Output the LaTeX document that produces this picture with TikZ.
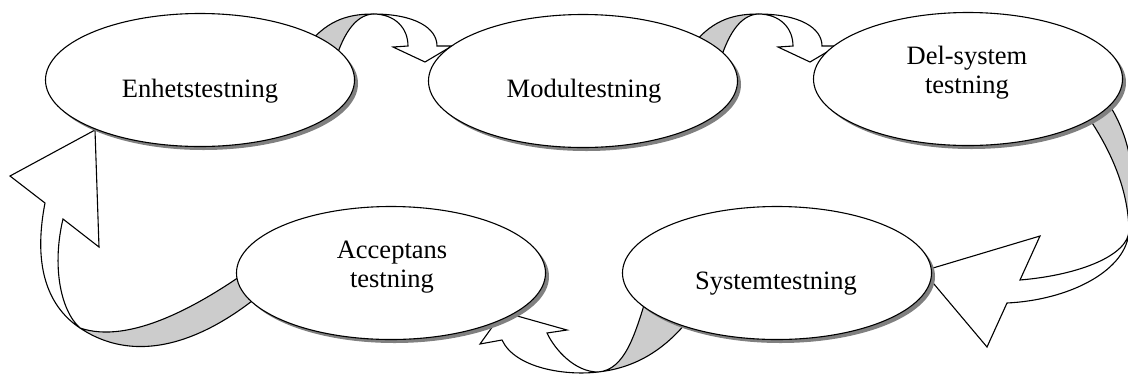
\documentclass[tikz,border=0pt]{standalone}
\usepackage{fontspec}
\setmainfont{Liberation Serif}
\usetikzlibrary{shapes.geometric,shadows}
\begin{document}
\begin{tikzpicture}[x=1pt,y=-1pt,
  stage/.style={ellipse, draw, line width=1.1pt, fill=white, inner sep=0pt,
    minimum width=309pt, minimum height=133pt,
    general shadow={fill=black!50, shadow xshift=3.5pt, shadow yshift=-3.5pt}},
  lbl/.style={font=\fontsize{26.5}{28.5}\selectfont, align=center, inner sep=0pt, anchor=base},
  back/.style={fill=black!20, draw, line width=1.1pt, line join=round},
  front/.style={fill=white, draw, line width=1.1pt, line join=miter},
  toparrow/.pic={
    % shaded back face of the ribbon
    \path[back] (-68,34) .. controls (-48,8) and (-28,0) .. (0,0)
      .. controls (-18,1) and (-31,21) .. (-40,54) -- cycle;
    % front face with the arrow head
    \path[front] (0,0) .. controls (42,0) and (64,14) .. (64,32)
      -- (79,32) -- (52,48) -- (20,33) -- (35,32)
      .. controls (35,14) and (22,0) .. (0,0) -- cycle;
  }
]
\useasboundingbox (0,0) rectangle (1128,376);
\clip (0,0) rectangle (1128,376);

% ribbon arrows along the top row
\pic (arrAB) at (373,14) {toparrow};
\pic (arrBC) at (758,14) {toparrow};

% ribbon arrow down the right side
\path[back] (1100,92) .. controls (1135,135) and (1137,190) .. (1129,230)
  .. controls (1128,190) and (1112,150) .. (1082,108) -- cycle;
\path[front] (1129,230) .. controls (1129,255) and (1080,275) .. (1020,280)
  -- (1040,236) -- (923,271) -- (987,347) -- (1007,303)
  .. controls (1070,300) and (1128,270) .. (1129,230) -- cycle;

% ribbon arrow along the bottom
\path[back] (690,318) .. controls (665,350) and (635,368) .. (598,372)
  .. controls (625,370) and (635,335) .. (648,292) -- cycle;
\path[front] (598,372) .. controls (565,376) and (515,368) .. (502,340)
  -- (480,344) -- (503,312) -- (567,330) -- (547,333)
  .. controls (555,350) and (575,372) .. (598,372) -- cycle;

% ribbon arrow up the left side
\path[back] (268,288) .. controls (210,338) and (140,368) .. (80,328)
  .. controls (130,345) and (200,305) .. (252,268) -- cycle;
\path[front] (80,328) .. controls (50,308) and (32,270) .. (45,203)
  -- (10,176) -- (95,130) -- (99,247) -- (63,219)
  .. controls (52,265) and (60,310) .. (80,328) -- cycle;

% test stages
\node[stage] (e1) at (200,80) {};
\node[stage] (e2) at (583,81) {};
\node[stage] (e3) at (968,79) {};
\node[stage] (e4) at (391,273) {};
\node[stage] (e5) at (777,273) {};

% stage names (base anchor sits on the last line)
\node[lbl] (t1) at (200,97) {Enhetstestning};
\node[lbl] (t2) at (584,97) {Modultestning};
\node[lbl] (t3) at (967,93) {Del-system\\testning};
\node[lbl] (t4) at (392,287) {Acceptans\\testning};
\node[lbl] (t5) at (776,289) {Systemtestning};
\end{tikzpicture}
\end{document}
